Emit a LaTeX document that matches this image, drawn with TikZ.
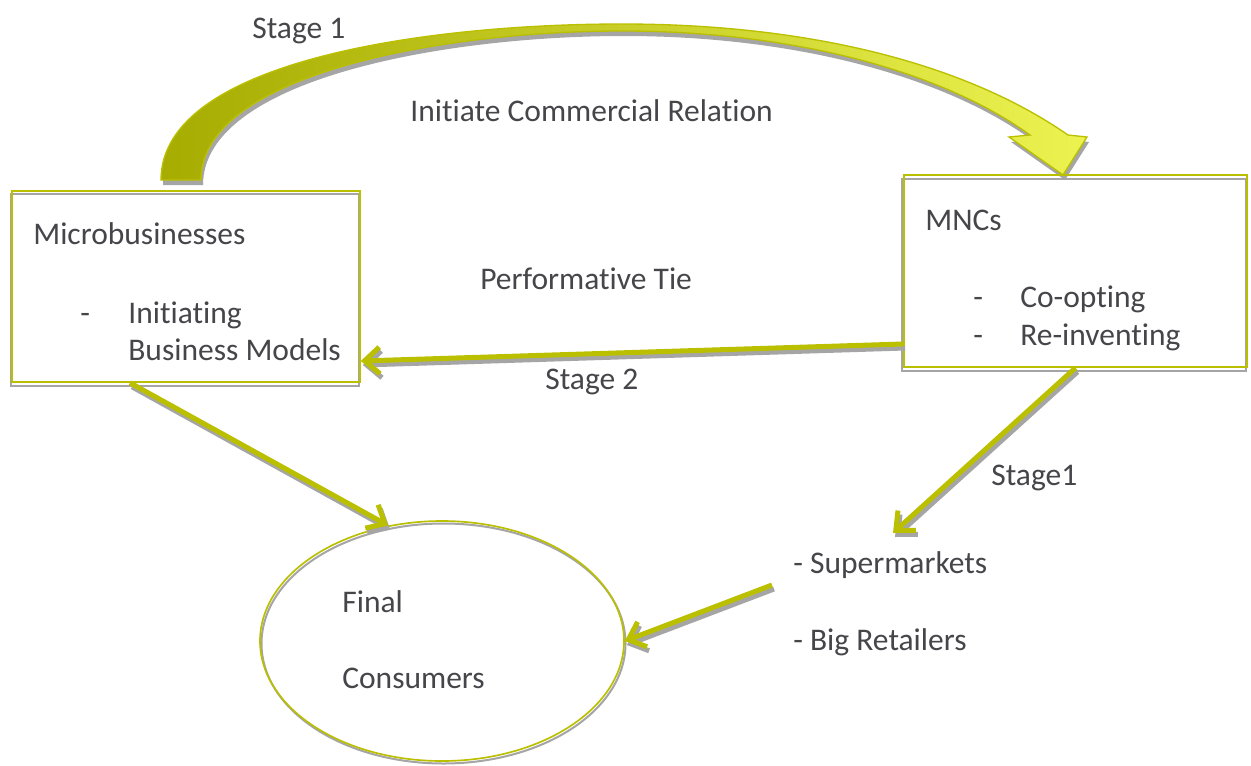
\documentclass[tikz,border=0pt]{standalone}
\usepackage{fontspec}
\setmainfont{Carlito}[Ligatures={NoCommon}]
\usetikzlibrary{arrows.meta,shapes.geometric}
\definecolor{lime}{RGB}{186,192,0}
\definecolor{txt}{RGB}{70,70,74}
\definecolor{shd}{RGB}{165,165,165}
\definecolor{olivedark}{RGB}{166,172,0}
\definecolor{olivemid}{RGB}{208,210,120}
\definecolor{yellowlt}{RGB}{236,242,80}
\begin{document}
\begin{tikzpicture}[x=0.6pt,y=-0.6pt,
  font=\fontsize{18.9}{22}\selectfont,
  txtn/.style={text=txt, inner sep=0pt, anchor=base west},
  boxn/.style={draw=lime, line width=1pt, rectangle, inner sep=0pt},
  boxshadow/.style={draw=shd, line width=1.2pt},
  conn/.style={draw=lime, line width=3pt, -{Straight Barb[length=9pt,width=16pt]}},
  connshd/.style={conn, draw=shd, transform canvas={shift={(1.2pt,-2.4pt)}}},
  bigarrow/.style={draw=lime, line width=0.8pt, left color=olivedark, middle color=olivemid, right color=yellowlt},
  bigshadow/.style={fill=shd, transform canvas={shift={(1.2pt,-3pt)}}}
]
\fill[white] (0,0) rectangle (1251,765);
\useasboundingbox (0,0) rectangle (1251,765);

% big curved arrow (Stage 1)
\path[bigshadow] (161,180) .. controls (161,60) and (430,24) .. (622,24)
  .. controls (800,24) and (960,60) .. (1068,135) -- (1087,137) -- (1063,175)
  -- (1009,137) -- (1030,135) .. controls (940,70) and (790,31) .. (622,31)
  .. controls (440,31) and (201,75) .. (201,180) -- cycle;
\path[bigarrow] (161,180) .. controls (161,60) and (430,24) .. (622,24)
  .. controls (800,24) and (960,60) .. (1068,135) -- (1087,137) -- (1063,175)
  -- (1009,137) -- (1030,135) .. controls (940,70) and (790,31) .. (622,31)
  .. controls (440,31) and (201,75) .. (201,180) -- cycle;

% box shadows
\draw[boxshadow] (10.5,194) rectangle (358.5,385.5);
\draw[boxshadow] (902,178.5) rectangle (1245.5,370.5);
\draw[draw=shd, line width=1.2pt] (443.5,643.5) ellipse (182 and 120);

% main shapes
\node[boxn, minimum width=208.8pt, minimum height=114.6pt] (micro) at (186,286.5) {};
\node[boxn, minimum width=205.8pt, minimum height=115.2pt] (mnc) at (1075.5,271) {};
\node[draw=lime, line width=1pt, ellipse, inner sep=0pt,
      minimum width=218.4pt, minimum height=144pt] (cons) at (442,641) {};

% texts
\node[txtn] (tstage1) at (252,38) {Stage 1};
\node[txtn] (trel) at (410,121) {Initiate Commercial Relation};
\node[txtn] (tperf) at (480,289) {Performative Tie};
\node[txtn] (tstage2) at (545,389) {Stage 2};
\node[txtn] (tstage1b) at (991,485) {Stage1};

\node[txtn] (tmicro) at (33,244) {Microbusinesses};
\node[txtn] (tdash1) at (80,323) {-};
\node[txtn] (tinit) at (128,323) {Initiating};
\node[txtn] (tbm) at (128,360) {Business Models};

\node[txtn] (tmnc) at (925,230) {MNCs};
\node[txtn] (tdash2) at (973,307) {-};
\node[txtn] (tcoopt) at (1020,307) {Co-opting};
\node[txtn] (tdash3) at (973,345) {-};
\node[txtn] (treinv) at (1020,345) {Re-inventing};

\node[txtn] (tfinal) at (342,612) {Final};
\node[txtn] (tconsumers) at (342,688) {Consumers};

\node[txtn] (sup) at (793,573) {- Supermarkets};
\node[txtn] (big) at (793,650) {- Big Retailers};

\coordinate (st1end) at (893,533);

% connectors
\draw[connshd] ([yshift=-43.8pt]mnc.west) -- ([yshift=-44.7pt]micro.east);
\draw[conn] ([yshift=-43.8pt]mnc.west) -- ([yshift=-44.7pt]micro.east);

\draw[connshd] ([xshift=-33.6pt]micro.south) -- (cons.115);
\draw[conn] ([xshift=-33.6pt]micro.south) -- (cons.115);

\draw[connshd] (mnc.south) -- (st1end);
\draw[conn] (mnc.south) -- (st1end);

\draw[connshd] ([xshift=-12.6pt,yshift=-7.2pt]sup.base west) -- (cons.east);
\draw[conn] ([xshift=-12.6pt,yshift=-7.2pt]sup.base west) -- (cons.east);
\end{tikzpicture}
\end{document}
